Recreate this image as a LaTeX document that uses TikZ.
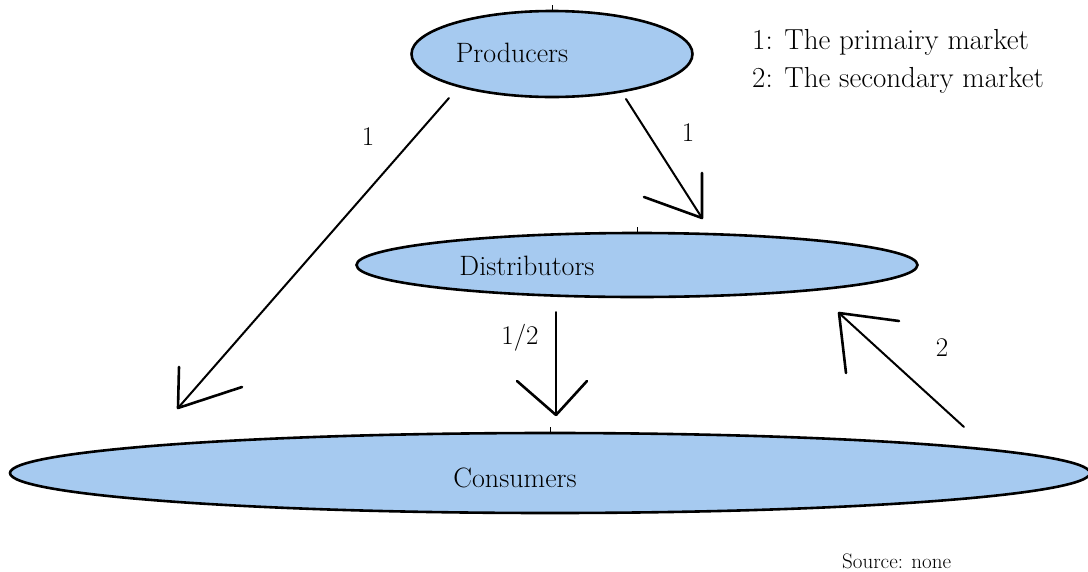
\documentclass[tikz,border=0pt]{standalone}
\usetikzlibrary{shapes.geometric}
\definecolor{paintblue}{HTML}{A6CAF0}
\begin{document}
\begin{tikzpicture}[x=1pt,y=-1pt,
  market/.style={ellipse, draw=black, line width=2.6pt, fill=paintblue, inner sep=0pt},
  shaft/.style={line width=2pt, line cap=round},
  barb/.style={line width=2.6pt, line cap=round, line join=round},
  tick/.style={line width=1pt},
  lbl/.style={font=\fontsize{28}{30}\selectfont, inner sep=0pt, anchor=base},
  num/.style={font=\fontsize{27}{29}\selectfont, inner sep=0pt},
  legend/.style={font=\fontsize{29}{31}\selectfont, inner sep=0pt, anchor=base west},
  src/.style={font=\fontsize{21}{23}\selectfont, inner sep=0pt, anchor=base west}]
\useasboundingbox (0,0) rectangle (1088,571);

% market participants
\node[market, minimum width=281pt, minimum height=86pt] (prod) at (552,54) {};
\node[market, minimum width=561pt, minimum height=64pt] (dist) at (637,265) {};
\node[market, minimum width=1080pt, minimum height=80pt] (cons) at (550,473) {};
\draw[tick] (prod.north) -- ++(0,-5);
\draw[tick] (dist.north) -- ++(0,-5);
\draw[tick] (cons.north) -- ++(0,-5);

\node[lbl] (prodtext) at (512,62) {Producers};
\node[lbl] (disttext) at (527,275) {Distributors};
\node[lbl] (constext) at (515,487) {Consumers};

% flows between the markets
\coordinate (p1s) at (449,98);  \coordinate (p1t) at (178,408);
\coordinate (p2s) at (626,99);  \coordinate (p2t) at (702,218);
\coordinate (d1s) at (556,312); \coordinate (d1t) at (556,415);
\coordinate (c1s) at (964,427); \coordinate (c1t) at (839,313);

\draw[shaft] (p1s) -- (p1t);
\draw[barb] (179,367) -- (p1t) -- (242,387);
\draw[shaft] (p2s) -- (p2t);
\draw[barb] (702,173) -- (p2t) -- (644,197);
\draw[shaft] (d1s) -- (d1t);
\draw[barb] (517,381) -- (d1t) -- (587,381);
\draw[shaft] (c1s) -- (c1t);
\draw[barb] (846,373) -- (c1t) -- (899,321);

\node[num] (n1) at (368,137) {1};
\node[num] (n2) at (688,133) {1};
\node[num] (n3) at (520,338) {1/2};
\node[num] (n4) at (942,348) {2};

% key
\node[legend] (key1) at (752,49) {1: The primairy market};
\node[legend] (key2) at (752,87) {2: The secondary market};
\node[src] (source) at (842,568) {Source: none};
\end{tikzpicture}
\end{document}
